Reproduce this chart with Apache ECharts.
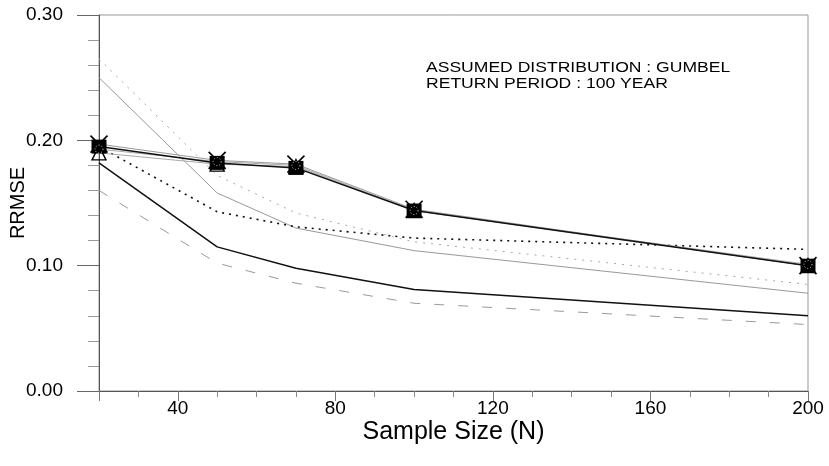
<!DOCTYPE html>
<html>
<head>
<meta charset="utf-8">
<script src="https://cdn.jsdelivr.net/npm/echarts@6/dist/echarts.min.js"></script>
<style>
  html, body { margin: 0; padding: 0; background: #ffffff; }
  #chart { width: 829px; height: 466px; }
</style>
</head>
<body>
<div id="chart"></div>
<script>
// Sample sizes (N) at which RRMSE was evaluated
const sampleSizes = [20, 50, 70, 100, 200];

// Axis tick positions
const xLabelTicks = [40, 80, 120, 160, 200];
const xLongTicks = [20, 40, 80, 120, 160, 200];
const xShortTicks = [30, 50, 60, 70, 90, 100, 110, 130, 140, 150, 170, 180, 190];

// RRMSE values per method
const blackSolid  = [0.182, 0.115, 0.098, 0.081, 0.060];
const grayDashed  = [0.160, 0.102, 0.086, 0.070, 0.053];
const darkDotted  = [0.195, 0.143, 0.131, 0.122, 0.113];
const graySolid   = [0.250, 0.158, 0.130, 0.112, 0.078];
const lightDotted = [0.265, 0.172, 0.142, 0.119, 0.085];
const squareSeries   = [0.195, 0.182, 0.178, 0.144, 0.100];
const crossSeries    = [0.197, 0.184, 0.181, 0.145, 0.100];
const triangleSeries = [0.190, 0.181, 0.179, 0.144, 0.100];
const circleSeries   = [0.193, 0.183, 0.180, 0.144, 0.101];

const annotationLines = ['ASSUMED DISTRIBUTION : GUMBEL', 'RETURN PERIOD : 100 YEAR'];

const FONT = "'Liberation Sans', Arial, Helvetica, sans-serif";

function pairs(values) {
  return sampleSizes.map((n, i) => [n, values[i]]);
}

function plainLine(name, values, color, width, type, z) {
  return {
    name, type: 'line', data: pairs(values), symbol: 'none', z: z || 2,
    lineStyle: { color, width, type }, silent: true
  };
}

function markerLine(name, values, lineColor, lineWidth, symbol, size, itemStyle, z) {
  return {
    name, type: 'line', data: pairs(values), symbol, symbolSize: size, z,
    showSymbol: true,
    lineStyle: { color: lineColor, width: lineWidth },
    itemStyle, silent: true
  };
}

const chart = echarts.init(document.getElementById('chart'), null, { renderer: 'canvas' });

chart.setOption({
  animation: false,
  backgroundColor: '#ffffff',
  grid: {
    left: 99, right: 21, top: 15, bottom: 75,
    outerBoundsMode: 'none', containLabel: false,
    show: true, borderColor: '#999999', borderWidth: 1, backgroundColor: 'transparent'
  },
  xAxis: [
    {
      type: 'value', min: 20, max: 200,
      name: 'Sample Size (N)', nameLocation: 'middle', nameGap: 29, nameMoveOverlap: false,
      nameTextStyle: { fontFamily: FONT, fontSize: 25, color: '#000' },
      axisLine: { show: true, lineStyle: { color: '#555555', width: 1 } },
      axisTick: { show: true, inside: false, length: 6, customValues: xShortTicks,
                  lineStyle: { color: '#888888' } },
      axisLabel: { show: true, customValues: xLabelTicks, margin: 8,
                   fontFamily: FONT, fontSize: 19, color: '#000' },
      splitLine: { show: false }
    },
    {
      type: 'value', min: 20, max: 200, position: 'bottom',
      axisLine: { show: false },
      axisTick: { show: true, inside: false, length: 10, customValues: xLongTicks,
                  lineStyle: { color: '#777777' } },
      axisLabel: { show: false },
      splitLine: { show: false }
    }
  ],
  yAxis: {
    type: 'value', min: 0, max: 0.3, interval: 0.1,
    name: 'RRMSE', nameLocation: 'middle', nameGap: 71, nameMoveOverlap: false,
    nameTextStyle: { fontFamily: FONT, fontSize: 20, color: '#000' },
    axisLine: { show: true, lineStyle: { color: '#555555', width: 1 } },
    axisTick: { show: true, inside: false, length: 22, lineStyle: { color: '#666666' } },
    minorTick: { show: true, splitNumber: 5, length: 11, lineStyle: { color: '#999999' } },
    axisLabel: { margin: 36, fontFamily: FONT, fontSize: 19, color: '#000',
                 formatter: v => v.toFixed(2) },
    splitLine: { show: false },
    minorSplitLine: { show: false }
  },
  graphic: [
    {
      type: 'text', x: 426, y: 60, scaleX: 1.17, scaleY: 1,
      style: {
        text: annotationLines.join('\n'),
        font: '15px ' + FONT, fill: '#000', lineHeight: 16
      }
    }
  ],
  series: [
    plainLine('grayDashed', grayDashed, '#9a9a9a', 1, [10, 14], 2),
    plainLine('lightDotted', lightDotted, '#a8a8a8', 1, [2, 6], 2),
    plainLine('graySolid', graySolid, '#999999', 1, 'solid', 2),
    plainLine('darkDotted', darkDotted, '#111111', 1.6, [2, 5], 3),
    plainLine('blackSolid', blackSolid, '#111111', 1.5, 'solid', 3),
    markerLine('triangle', triangleSeries, '#aaaaaa', 1, 'triangle', 14,
      { color: 'transparent', borderColor: '#000', borderWidth: 1.4 }, 4),
    markerLine('circle', circleSeries, '#aaaaaa', 1, 'none', 0, {}, 4),
    markerLine('cross', crossSeries, '#999999', 1, 'path://M0,0L10,10M10,0L0,10', 17,
      { color: 'transparent', borderColor: '#000', borderWidth: 1.6 }, 5),
    markerLine('square', squareSeries, '#111111', 1.5, 'rect', [15, 14],
      { color: '#000', borderColor: '#000', borderWidth: 0 }, 6),
    {
      name: 'circleMarks', type: 'scatter', data: pairs(circleSeries), symbol: 'circle',
      symbolSize: 8, z: 7, silent: true,
      itemStyle: { color: 'transparent', borderColor: '#ffffff', borderWidth: 1, borderType: [1, 2] }
    }
  ]
});
</script>
</body>
</html>
